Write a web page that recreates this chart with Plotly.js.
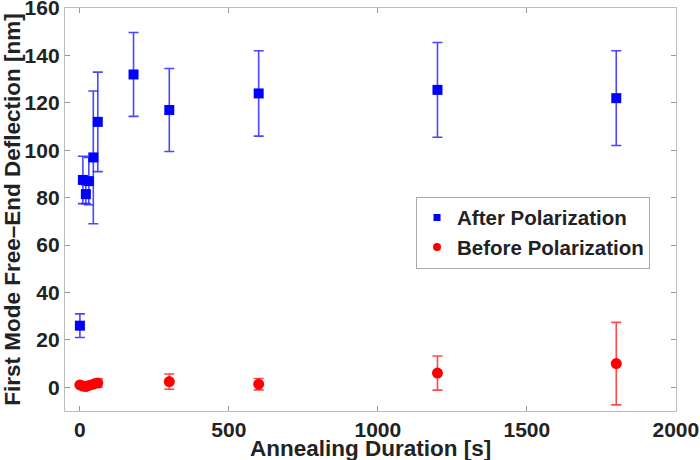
<!DOCTYPE html>
<html>
<head>
<meta charset="utf-8">
<script src="https://cdn.plot.ly/plotly-3.0.1.min.js"></script>
<style>html,body{margin:0;padding:0;background:#fff;}#chart{width:700px;height:460px;}</style>
</head>
<body>
<div id="chart"></div>
<script>
// Annealing durations [s]
const afterX = [0, 10, 20, 30, 45, 60, 180, 300, 600, 1200, 1800];
const afterY = [26, 87.5, 81.5, 87, 97, 112, 132, 117, 124, 125.5, 122];
const afterErr = [5, 10, 4, 10, 28, 21, 17.7, 17.5, 18, 20, 20];

const beforeX = [0, 10, 20, 30, 45, 60, 300, 600, 1200, 1800];
const beforeY = [1, 0.5, 0.3, 0.8, 1.3, 1.8, 2.4, 1.3, 6, 10];
const beforeErr = [0.5, 0.5, 0.5, 0.8, 1, 1.8, 3.2, 2.4, 7.2, 17.4];

const seriesNames = ['After Polarization', 'Before Polarization'];
const xTicks = [0, 500, 1000, 1500, 2000];
const yTicks = [0, 20, 40, 60, 80, 100, 120, 140, 160];
const xTitle = 'Annealing Duration [s]';
const yTitle = 'First Mode Free\u2013End Deflection [nm]';

const fontFam = '"Liberation Sans", Arial, Helvetica, sans-serif';
const blue = 'rgb(0,0,255)';
const red = 'rgb(255,0,0)';

const traces = [
  {
    x: afterX, y: afterY, type: 'scatter', mode: 'markers', showlegend: false,
    marker: {symbol: 'square', size: 10, color: blue},
    error_y: {type: 'data', array: afterErr, visible: true, color: 'rgba(40,40,255,0.85)', thickness: 1.6, width: 5}
  },
  {
    x: beforeX, y: beforeY, type: 'scatter', mode: 'markers', showlegend: false,
    marker: {symbol: 'circle', size: 11, color: red},
    error_y: {type: 'data', array: beforeErr, visible: true, color: 'rgba(255,40,40,0.85)', thickness: 1.6, width: 5}
  },
  // legend-only entries with the smaller legend symbols
  {x: [null], y: [null], type: 'scatter', mode: 'markers', name: '<b>' + seriesNames[0] + '</b>',
   marker: {symbol: 'square', size: 7, color: blue}},
  {x: [null], y: [null], type: 'scatter', mode: 'markers', name: '<b>' + seriesNames[1] + '</b>',
   marker: {symbol: 'circle', size: 8, color: red}}
];

const layout = {
  width: 700, height: 460,
  margin: {l: 65, r: 24, t: 8, b: 49},
  paper_bgcolor: '#fff', plot_bgcolor: '#fff',
  showlegend: true,
  font: {family: fontFam, color: '#222', size: 21},
  xaxis: {
    range: [-50, 2000.5], tickmode: 'array', tickvals: xTicks, ticktext: xTicks.map(v => '<b>' + v + '</b>'),
    showgrid: false, zeroline: false,
    showline: true, linecolor: '#bdbdbd', linewidth: 1.2, mirror: 'ticks',
    ticks: 'inside', ticklen: 5, tickcolor: '#999', tickwidth: 1,
    tickfont: {family: fontFam, size: 21, color: '#222'}
  },
  yaxis: {
    range: [-10, 160.05], tickmode: 'array', tickvals: yTicks, ticktext: yTicks.map(v => '<b>' + v + '</b>'),
    showgrid: false, zeroline: false,
    showline: true, linecolor: '#bdbdbd', linewidth: 1.2, mirror: 'ticks',
    ticks: 'inside', ticklen: 5, tickcolor: '#999', tickwidth: 1,
    ticklabeloverflow: 'allow',
    tickfont: {family: fontFam, size: 21, color: '#222'},
    title: {text: '<b>' + yTitle + '</b>', font: {family: fontFam, size: 22.5, color: '#222'}, standoff: 3}
  },
  annotations: [{
    text: '<b>' + xTitle + '</b>', xref: 'paper', yref: 'paper',
    x: 0.5, y: -0.092, xanchor: 'center', yanchor: 'middle', showarrow: false,
    font: {family: fontFam, size: 22.5, color: '#222'}
  }],
  legend: {
    x: 0.5745, y: 0.532, xanchor: 'left', yanchor: 'top',
    bgcolor: '#fff', bordercolor: '#aaa', borderwidth: 1,
    font: {family: fontFam, size: 20.5, color: '#222'},
    itemwidth: 30, tracegroupgap: 0
  }
};

Plotly.newPlot('chart', traces, layout, {displayModeBar: false, staticPlot: true});
</script>
</body>
</html>
